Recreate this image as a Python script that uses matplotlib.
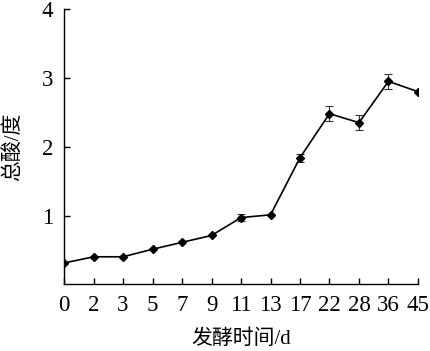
import numpy as np
import matplotlib
matplotlib.use("Agg")
import matplotlib.pyplot as plt

# fermentation days (categorical, evenly spaced on the axis)
days = ["0", "2", "3", "5", "7", "9", "11", "13", "17", "22", "28", "36", "45"]
total_acid = [0.31, 0.40, 0.40, 0.51, 0.61, 0.71, 0.97, 1.01, 1.84, 2.48, 2.35, 2.95, 2.80]
acid_err = [0.0, 0.0, 0.0, 0.0, 0.0, 0.0, 0.05, 0.0, 0.06, 0.11, 0.11, 0.11, 0.0]
y_ticks = [1, 2, 3, 4]

fonts = ["Liberation Serif", "Noto Sans CJK SC"]
plt.rcParams["font.family"] = fonts

fig = plt.figure(figsize=(4.30, 3.51), dpi=100)
ax = fig.add_axes([0.149, 0.19, 0.823, 0.784])

x = np.arange(len(days))
ax.errorbar(x, total_acid, yerr=acid_err, color="black", lw=1.2,
            marker="D", ms=4.2, mfc="black", mec="black",
            ecolor="#333333", elinewidth=0.8, capsize=2.6, capthick=0.8)

ax.set_xlim(0, len(days) - 1)
ax.set_ylim(0, 4)
ax.set_xticks(x)
ax.set_xticklabels(days)
ax.set_yticks(y_ticks)

for side in ["top", "right"]:
    ax.spines[side].set_visible(False)
for side in ["left", "bottom"]:
    ax.spines[side].set_linewidth(1.0)

ax.tick_params(direction="in", length=4.5, width=1.0, labelsize=16.5)
ax.tick_params(axis="x", pad=8)
ax.tick_params(axis="y", pad=8)

ax.set_xlabel("发酵时间/d", fontsize=15, labelpad=9)
ax.set_ylabel("总酸/度", fontsize=15, labelpad=13)

fig.savefig("out.png", dpi=100, facecolor="white")
